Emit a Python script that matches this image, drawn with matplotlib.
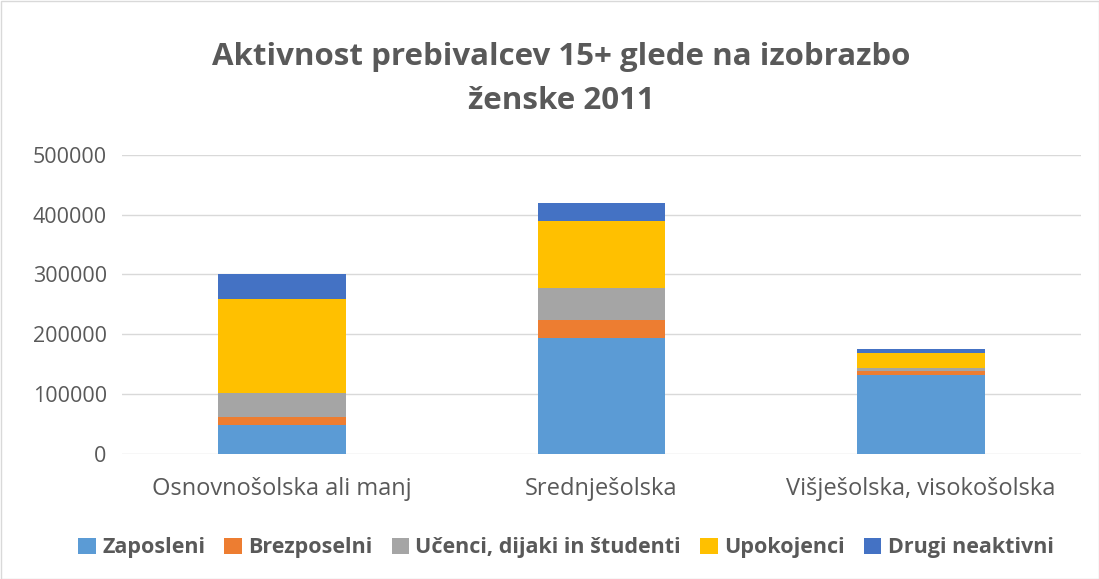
import matplotlib
matplotlib.use("Agg")
import matplotlib.pyplot as plt
from matplotlib.patches import Rectangle

categories = ["Osnovnošolska ali manj", "Srednješolska", "Višješolska, visokošolska"]
series_names = ["Zaposleni", "Brezposelni", "Učenci, dijaki in študenti", "Upokojenci", "Drugi neaktivni"]
zaposleni = [47000, 194000, 131000]
brezposelni = [14000, 29600, 7700]
ucenci = [40000, 53000, 4500]
upokojenci = [157500, 112700, 25100]
drugi = [41500, 29700, 6700]
colors = ["#5B9BD5", "#ED7D31", "#A5A5A5", "#FFC000", "#4472C4"]
yticks = [0, 100000, 200000, 300000, 400000, 500000]

plt.rcParams['font.family'] = ['Open Sans', 'DejaVu Sans']

W, H = 1099, 579
fig = plt.figure(figsize=(W/100, H/100), dpi=100)
ax = fig.add_axes([122/W, 1-453.5/H, (1081-122)/W, (453.5-155)/H])

data = [zaposleni, brezposelni, ucenci, upokojenci, drugi]
x = list(range(len(categories)))
bottom = [0]*len(categories)
for name, vals, c in zip(series_names, data, colors):
    ax.bar(x, vals, width=0.4, bottom=bottom, color=c, label=name, zorder=3)
    bottom = [b+v for b, v in zip(bottom, vals)]

ax.set_xlim(-0.5, 2.5)
ax.set_ylim(0, 500000)
ax.set_yticks(yticks)
ax.set_yticklabels([str(t) for t in yticks])
ax.yaxis.grid(True, color="#D9D9D9", linewidth=1, zorder=0)
for s in ax.spines.values():
    s.set_visible(False)
ax.tick_params(axis='both', length=0, colors="#595959", labelsize=15.5)
ax.tick_params(axis='y', pad=11)
ax.tick_params(axis='x', pad=17)
ax.set_xticks(x)
ax.set_xticklabels(categories, fontsize=17)

fig.text(561/W, 1-57/H, "Aktivnost prebivalcev 15+ glede na izobrazbo", ha='center', va='center',
         fontsize=22.5, fontweight='bold', color="#595959")
fig.text(561/W, 1-101/H, "ženske 2011", ha='center', va='center',
         fontsize=22.5, fontweight='bold', color="#595959")

leg = fig.legend(loc='center', bbox_to_anchor=(566/W, 1-548/H), ncol=5, frameon=False,
                 handlelength=0.8, handleheight=0.8, handletextpad=0.3, columnspacing=0.9,
                 prop={'weight': 'bold', 'size': 15.5})
for t in leg.get_texts():
    t.set_color("#595959")

fig.patches.append(Rectangle((0.5/W, 0.5/H), 1-1/W, 1-1/H, transform=fig.transFigure,
                             fill=False, edgecolor="#D9D9D9", linewidth=1))

fig.savefig("out.png", dpi=100)
